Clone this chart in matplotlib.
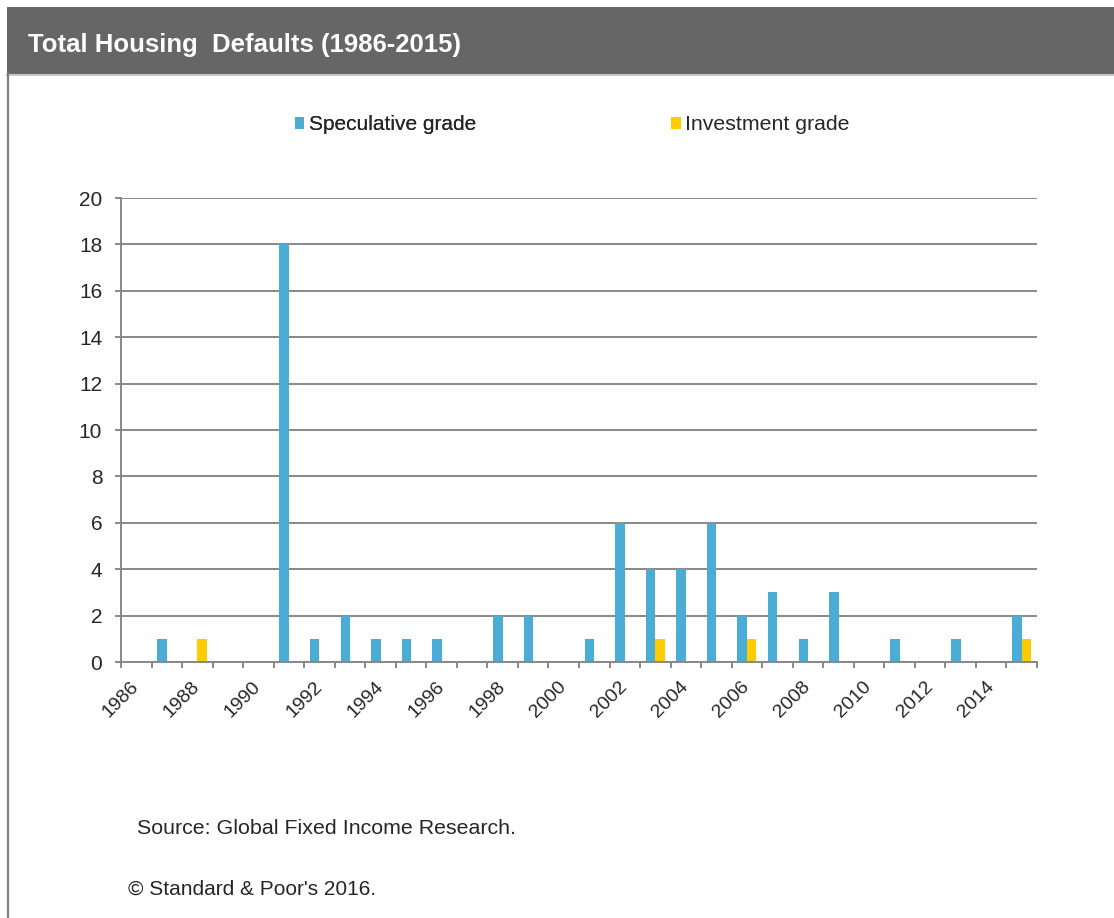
import matplotlib
matplotlib.use("Agg")
import matplotlib.pyplot as plt
from matplotlib.patches import Rectangle
from matplotlib.lines import Line2D
from matplotlib.transforms import ScaledTranslation
import numpy as np

plt.rcParams['font.family'] = ['Liberation Sans', 'DejaVu Sans']

years = list(range(1986, 2016))
speculative = [0, 1, 0, 0, 0, 18, 1, 2, 1, 1, 1, 0, 2, 2, 0,
               1, 6, 4, 4, 6, 2, 3, 1, 3, 0, 1, 0, 1, 0, 2]
investment = [0, 0, 1, 0, 0, 0, 0, 0, 0, 0, 0, 0, 0, 0, 0,
              0, 0, 1, 0, 0, 1, 0, 0, 0, 0, 0, 0, 0, 0, 1]
y_ticks = list(range(0, 21, 2))

title = "Total Housing  Defaults (1986-2015)"
series_names = ["Speculative grade", "Investment grade"]
source_note = "Source: Global Fixed Income Research."
copyright_note = "\u00a9 Standard & Poor's 2016."

BLUE = "#4BACD6"
YELLOW = "#FFCC00"
GRID = "#888888"
TEXT = "#262626"

W, H = 1114, 918
fig = plt.figure(figsize=(W / 100, H / 100), dpi=100)
fig.patch.set_facecolor("white")

def fx(px):
    return px / W

def fy(py):
    return 1 - py / H

# header band
fig.patches.append(Rectangle((fx(7), fy(74)), 1 - fx(7), fy(7) - fy(74),
                             transform=fig.transFigure, facecolor="#666666",
                             edgecolor="none", zorder=0))
fig.lines.append(Line2D([fx(7), 1], [fy(75), fy(75)], transform=fig.transFigure,
                        color="#c8c8c8", linewidth=1.5))
fig.lines.append(Line2D([fx(7.5), fx(7.5)], [fy(74), 0], transform=fig.transFigure,
                        color="#808080", linewidth=1.6))
fig.text(fx(28), fy(45), title, color="white", fontsize=18.5, fontweight="bold",
         ha="left", va="center")

ax = fig.add_axes([fx(121), fy(662), fx(1037) - fx(121), fy(198) - fy(662)])
x = np.arange(len(years))
bw = 0.31
b1 = ax.bar(x - bw / 2, speculative, width=bw, color=BLUE, zorder=3)
b2 = ax.bar(x + bw / 2, investment, width=bw, color=YELLOW, zorder=3)

ax.set_xlim(-0.5, len(years) - 0.5)
ax.set_ylim(0, 20)
ax.set_yticks(y_ticks)
ax.set_yticklabels([str(v) for v in y_ticks], fontsize=15, color=TEXT)
ax.yaxis.grid(True, color=GRID, linewidth=1.4, zorder=0)
ax.set_axisbelow(True)

for s in ["top", "right"]:
    ax.spines[s].set_visible(False)
for s in ["left", "bottom"]:
    ax.spines[s].set_color(GRID)
    ax.spines[s].set_linewidth(1.4)
    ax.spines[s].set_zorder(4)

ax.tick_params(axis="y", length=4.5, width=1.4, color=GRID, pad=9)

label_pos = x[::2]
ax.set_xticks(label_pos)
ax.set_xticklabels([str(years[i]) for i in label_pos], fontsize=14, color=TEXT,
                   rotation=45, ha="right", rotation_mode="anchor")
shift = ScaledTranslation(3 / 100, 0, fig.dpi_scale_trans)
for lbl in ax.get_xticklabels():
    lbl.set_va("center")
    lbl.set_transform(lbl.get_transform() + shift)
ax.tick_params(axis="x", which="major", length=0, pad=16)
ax.set_xticks(np.arange(-0.5, len(years) + 0.5, 1), minor=True)
ax.tick_params(axis="x", which="minor", length=4.5, width=1.4, color=GRID)

# legend entries
leg1 = fig.legend([b1], [series_names[0]], loc="center left",
                  bbox_to_anchor=(fx(295), fy(125)), frameon=False,
                  fontsize=15, handlelength=0.45, handleheight=0.45,
                  handletextpad=0.2, borderpad=0, borderaxespad=0,
                  labelcolor=TEXT)
leg2 = fig.legend([b2], [series_names[1]], loc="center left",
                  bbox_to_anchor=(fx(671), fy(125)), frameon=False,
                  fontsize=15.3, handlelength=0.45, handleheight=0.45,
                  handletextpad=0.2, borderpad=0, borderaxespad=0,
                  labelcolor=TEXT)
fig.add_artist(leg1)

fig.text(fx(137), fy(828), source_note, fontsize=15.4, color=TEXT, ha="left", va="center")
fig.text(fx(128), fy(889), copyright_note, fontsize=15, color=TEXT, ha="left", va="center")

fig.savefig("out.png", dpi=100)
